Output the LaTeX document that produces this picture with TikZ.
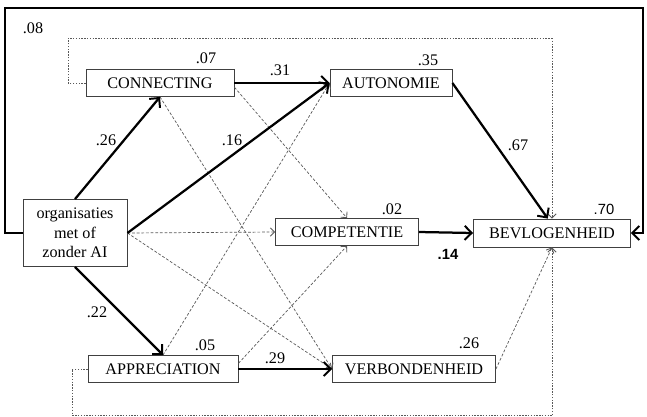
\documentclass[tikz,border=0pt]{standalone}
\usepackage{fontspec}
\setmainfont{Liberation Serif}
\newfontfamily\numsans{Liberation Sans}
\usetikzlibrary{arrows.meta, positioning}

\begin{document}
\begin{tikzpicture}[x=0.025cm, y=-0.025cm, font=\fontsize{11.5}{14}\selectfont,
  var/.style={draw=black!75, fill=white, line width=0.6pt, minimum height=0.675cm, inner sep=0pt, align=center},
  sigpath/.style={line width=1.6pt, -{Straight Barb[length=5pt, width=10pt, line width=1.4pt]}},
  nspath/.style={draw=black!65, line width=0.5pt, dash pattern=on 2pt off 1.3pt, -{Straight Barb[length=3pt, width=6pt, line width=0.6pt]}},
  errloop/.style={draw=black!65, line width=0.6pt, dash pattern=on 1pt off 1pt},
  coef/.style={inner sep=1pt}]
\useasboundingbox (0,0) rectangle (647,416);

% variables
\node[var, minimum width=3.7cm] (con) at (160,83) {CONNECTING};
\node[var, minimum width=3.05cm] (aut) at (391,83) {AUTONOMIE};
\node[var, minimum width=2.6cm, minimum height=1.675cm] (org) at (75,233) {organisaties\\met of\\zonder AI};
\node[var, minimum width=3.575cm] (com) at (347,232) {COMPETENTIE};
\node[var, minimum width=3.925cm, minimum height=0.7cm] (bev) at (552,233) {BEVLOGENHEID};
\node[var, minimum width=3.75cm] (app) at (163,369) {APPRECIATION};
\node[var, minimum width=4.075cm] (ver) at (414,369) {VERBONDENHEID};

% corners of the loops
\coordinate (tl) at (5,8);
\coordinate (tr) at (643,8);
\coordinate (dtl) at (68,38);
\coordinate (dtr) at (552,38);
\coordinate (dbl) at (72,415);
\coordinate (dbr) at (552,415);

% non-significant paths
\draw[nspath] (con.south) -- (ver.west);
\draw[nspath] ([yshift=-3pt]con.east) -- (com.north);
\draw[nspath] (org.east) -- (com.west);
\draw[nspath] (org.east) -- (ver.west);
\draw[nspath] (app.north) -- (aut.west);
\draw[nspath] ([yshift=4pt]app.east) -- (com.south);
\draw[nspath] (ver.east) -- (bev.south);
\draw[errloop] (con.west) -| (dtl) -- (dtr);
\draw[errloop, -{Straight Barb[length=3pt, width=6pt, line width=0.6pt]}] (dtr) -- (bev.north);
\draw[errloop] (app.west) -| (dbl) -- (dbr);
\draw[errloop, -{Straight Barb[length=3pt, width=6pt, line width=0.6pt]}] (dbr) -- (bev.south);

% significant paths
\draw[sigpath] (org.north) -- (con.south);
\draw[sigpath] (org.east) -- (aut.west);
\draw[sigpath] (con.east) -- (aut.west);
\draw[sigpath] (aut.east) -- ([xshift=-3pt]bev.north);
\draw[sigpath] (com.east) -- (bev.west);
\draw[sigpath] (org.south) -- (app.north);
\draw[sigpath] (app.east) -- (ver.west);
\draw[sigpath] (org.west) -| (tl) -- (tr) |- (bev.east);

% coefficients
\node[coef] (r08) at (33,28) {.08};
\node[coef] (r07) at (206,58) {.07};
\node[coef] (c31) at (280,70) {.31};
\node[coef] (r35) at (428,60) {.35};
\node[coef] (c26) at (106,140) {.26};
\node[coef] (c16) at (232,140) {.16};
\node[coef] (c67) at (518,145) {.67};
\node[coef] (r02) at (392,209) {.02};
\node[coef, font=\numsans\fontsize{10.5}{12}\selectfont] (r70) at (604,209) {.70};
\node[coef, font=\numsans\bfseries\fontsize{10.5}{12}\selectfont] (c14) at (448,254) {.14};
\node[coef] (c22) at (97,312) {.22};
\node[coef] (r05) at (205,345) {.05};
\node[coef] (c29) at (275,358) {.29};
\node[coef] (r26) at (469,343) {.26};
\end{tikzpicture}
\end{document}
